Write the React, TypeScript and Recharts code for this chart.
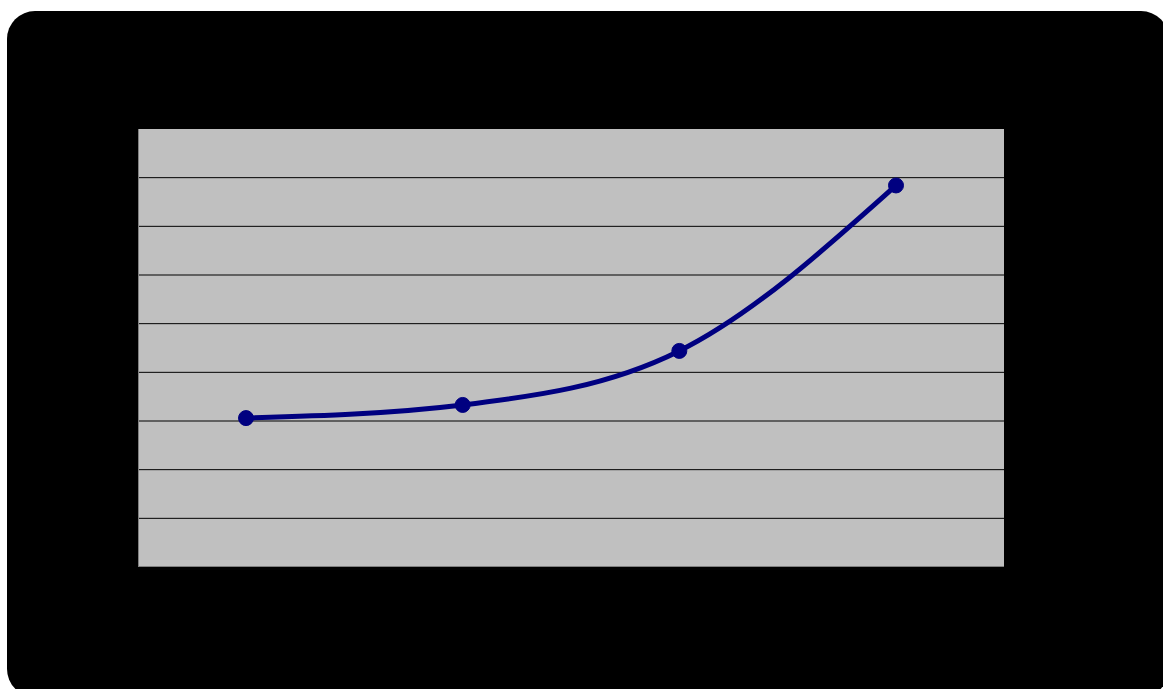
import React from 'react';
import { LineChart, Line, XAxis, YAxis, CartesianGrid } from 'recharts';

const categories = ['A', 'B', 'C', 'D'];
const values = [30.6, 33.3, 44.4, 78.4];
const yTicks = [0, 10, 20, 30, 40, 50, 60, 70, 80, 90];

const data = categories.map((name, i) => ({ name, value: values[i] }));

export default function App() {
  return (
    <div
      style={{
        position: 'fixed',
        left: 0,
        top: 0,
        width: 1163,
        height: 689,
        overflow: 'hidden',
        background: '#ffffff',
      }}
    >
      <div
        style={{
          position: 'absolute',
          left: 7,
          top: 11,
          width: 1162,
          height: 686,
          borderRadius: 28,
          background: '#000000',
        }}
      />
      <div style={{ position: 'absolute', left: 0, top: 0 }}>
        <LineChart
          width={1163}
          height={689}
          data={data}
          margin={{ top: 129, right: 159, left: 138, bottom: 122 }}
        >
          <CartesianGrid
            vertical={false}
            fill="#C0C0C0"
            stroke="#000000"
            strokeWidth={1}
            horizontalValues={[10, 20, 30, 40, 50, 60, 70, 80]}
          />
          <XAxis dataKey="name" hide padding={{ left: 108, right: 108 }} />
          <YAxis hide domain={[0, 90]} ticks={yTicks} />
          <Line
            type="monotone"
            dataKey="value"
            stroke="#000080"
            strokeWidth={5}
            dot={{ r: 7.5, fill: '#000080', stroke: '#000080', strokeWidth: 1 }}
            isAnimationActive={false}
          />
        </LineChart>
      </div>
      <div
        style={{
          position: 'absolute',
          left: 138,
          top: 129,
          width: 866,
          height: 438,
          borderLeft: '1px solid #808080',
          borderBottom: '1px solid #808080',
          boxSizing: 'border-box',
          pointerEvents: 'none',
        }}
      />
    </div>
  );
}
